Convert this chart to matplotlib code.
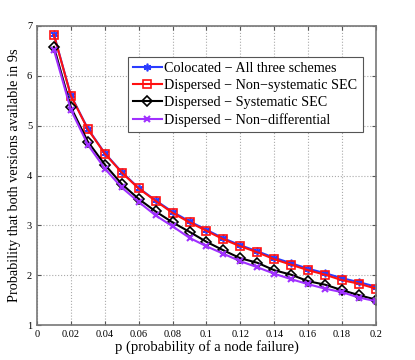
import matplotlib
matplotlib.use("Agg")
import matplotlib.pyplot as plt
import numpy as np

p = [0.01, 0.02, 0.03, 0.04, 0.05, 0.06, 0.07, 0.08, 0.09, 0.10,
     0.11, 0.12, 0.13, 0.14, 0.15, 0.16, 0.17, 0.18, 0.19, 0.20]
colocated = [6.83, 5.61, 4.94, 4.45, 4.07, 3.75, 3.50, 3.27, 3.08, 2.91,
             2.74, 2.60, 2.48, 2.35, 2.24, 2.13, 2.04, 1.94, 1.86, 1.77]
nonsys = [6.82, 5.60, 4.93, 4.44, 4.06, 3.74, 3.49, 3.25, 3.06, 2.89,
          2.72, 2.58, 2.46, 2.32, 2.21, 2.10, 2.01, 1.90, 1.83, 1.73]
sys_sec = [6.58, 5.37, 4.68, 4.22, 3.83, 3.53, 3.28, 3.06, 2.87, 2.67,
           2.50, 2.34, 2.25, 2.10, 2.01, 1.88, 1.81, 1.70, 1.60, 1.51]
nondiff = [6.52, 5.32, 4.62, 4.14, 3.76, 3.47, 3.20, 2.98, 2.75, 2.58,
           2.43, 2.28, 2.16, 2.03, 1.92, 1.82, 1.73, 1.66, 1.55, 1.48]
labels = ["Colocated \u2212 All three schemes",
          "Dispersed \u2212 Non\u2212systematic SEC",
          "Dispersed \u2212 Systematic SEC",
          "Dispersed \u2212 Non\u2212differential"]
xticks = [0, 0.02, 0.04, 0.06, 0.08, 0.1, 0.12, 0.14, 0.16, 0.18, 0.2]
xticklabels = ["0", "0.02", "0.04", "0.06", "0.08", "0.1", "0.12", "0.14", "0.16", "0.18", "0.2"]
yticks = [1, 2, 3, 4, 5, 6, 7]

plt.rcParams['font.family'] = ['Liberation Serif', 'DejaVu Serif']
fig = plt.figure(figsize=(4.15, 3.6), dpi=100)
ax = fig.add_axes([0.089, 0.097, 0.817, 0.831])

ax.plot(p, colocated, color='#2a3cff', lw=1.5, marker=(6, 2, 0), ms=5.5, mew=1.2, label=labels[0])
ax.plot(p, nonsys, color='#ff1010', lw=1.5, marker='s', ms=5.5, mfc='none', mew=1.2, label=labels[1])
ax.plot(p, sys_sec, color='black', lw=1.5, marker='D', ms=5.5, mfc='none', mew=1.2, label=labels[2])
ax.plot(p, nondiff, color='#a030ff', lw=1.5, marker='x', ms=5, mew=1.5, label=labels[3])

ax.set_xlim(0, 0.2)
ax.set_ylim(1, 7)
ax.set_xticks(xticks)
ax.set_xticklabels(xticklabels)
ax.set_yticks(yticks)
ax.tick_params(direction='in', labelsize=7.5, length=3, color='#555555', top=True, right=True)
ax.grid(True, linestyle=':', color='#aaaaaa', lw=0.8)
for s in ax.spines.values():
    s.set_color('#777777')
    s.set_linewidth(1.2)
ax.set_xlabel("p (probability of a node failure)", fontsize=10.5, labelpad=1)
ax.set_ylabel("Probability that both versions available in 9s", fontsize=10.3, labelpad=4)

leg = ax.legend(loc='upper left', bbox_to_anchor=(0.268, 0.896), fontsize=10.2,
                frameon=True, fancybox=False, edgecolor='#555555', framealpha=1,
                handlelength=2.0, handletextpad=0.2, borderpad=0.38, labelspacing=0.28,
                borderaxespad=0)
leg.get_frame().set_linewidth(0.8)

fig.savefig("out.png", dpi=100, facecolor='white')
